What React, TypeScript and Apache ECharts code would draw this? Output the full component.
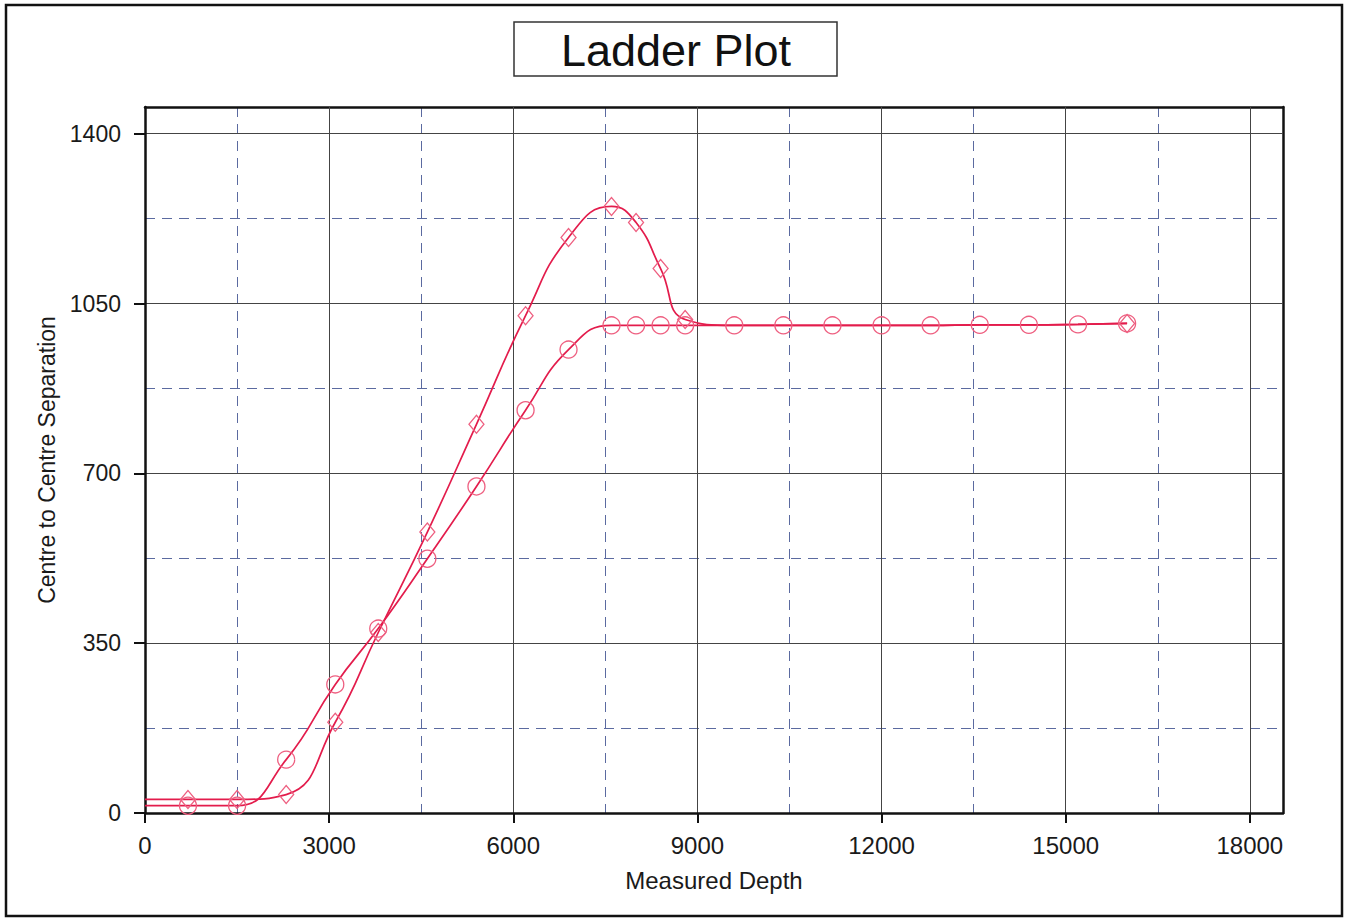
import React, { useEffect, useRef } from "react";
import * as echarts from "echarts";

const circleDepth = [0, 700, 1500, 2300, 3100, 3800, 4600, 5400, 6200, 6900, 7600, 8000, 8400, 8800, 9600, 10400, 11200, 12000, 12800, 13600, 14400, 15200, 16000];
const circleSep = [15, 15, 15, 110, 265, 380, 524, 673, 830, 955, 1005, 1005, 1005, 1005, 1005, 1005, 1005, 1005, 1005, 1006, 1006, 1007, 1009];

const diamondDepth = [0, 700, 1500, 2300, 3100, 3800, 4600, 5400, 6200, 6900, 7600, 8000, 8400, 8800, 9600, 10400, 11200, 12000, 12800, 13600, 14400, 15200, 16000];
const diamondSep = [28, 28, 28, 38, 187, 372, 579, 801, 1025, 1186, 1250, 1217, 1122, 1017, 1005, 1005, 1005, 1005, 1005, 1006, 1006, 1007, 1009];
// diamond markers are drawn only at these depths; elsewhere the line continues unmarked
const diamondMarked = [700, 1500, 2300, 3100, 3800, 4600, 5400, 6200, 6900, 7600, 8000, 8400, 8800, 16000];

const xTicks = { min: 0, max: 18540, major: 3000, minor: 1500 };
const yTicks = { min: 0, max: 1455, major: 350, minor: 175 };

const FONT = "'Liberation Sans', Arial, sans-serif";
const LINE = "#e31c4c";
const MARK = "#ee5f80";

function toData(xs: number[], ys: number[], marked?: number[]) {
  return xs.map((x, i) => {
    const show = i > 0 && (!marked || marked.indexOf(x) >= 0);
    return show ? { value: [x, ys[i]] } : { value: [x, ys[i]], symbol: "none" };
  });
}

const plain = (v: number) => String(v);

export default function App() {
  const ref = useRef<HTMLDivElement>(null);
  useEffect(() => {
    if (!ref.current) return;
    const chart = echarts.init(ref.current, undefined, { renderer: "svg" });
    const black = { color: "#111", width: 2.5 };
    chart.setOption({
      animation: false,
      backgroundColor: "#fff",
      grid: { left: 145, right: 63, top: 107, bottom: 106 },
      xAxis: [
        {
          type: "value",
          position: "bottom",
          min: xTicks.min,
          max: xTicks.max,
          interval: xTicks.major,
          z: 3,
          name: "Measured Depth",
          nameLocation: "middle",
          nameGap: 55,
          nameTextStyle: { fontFamily: FONT, fontSize: 24, color: "#1a1a1a", verticalAlign: "top" },
          axisLine: { show: true, onZero: false, lineStyle: black },
          axisTick: { show: true, length: 10, lineStyle: { color: "#111", width: 2 } },
          axisLabel: { margin: 20, fontFamily: FONT, fontSize: 24, color: "#1a1a1a", showMaxLabel: false, formatter: plain },
          splitLine: { show: true, showMinLine: false, showMaxLine: false, lineStyle: { color: "#444", width: 1 } },
        },
        {
          type: "value",
          position: "top",
          min: xTicks.min,
          max: xTicks.max,
          interval: xTicks.minor,
          z: 1,
          axisLine: { show: true, onZero: false, lineStyle: black },
          axisTick: { show: false },
          axisLabel: { show: false },
          splitLine: { show: true, showMinLine: false, showMaxLine: false, lineStyle: { color: "#5b6aa0", width: 1, type: [10, 7] } },
        },
      ],
      yAxis: [
        {
          type: "value",
          position: "left",
          min: yTicks.min,
          max: yTicks.max,
          interval: yTicks.major,
          z: 3,
          name: "Centre to Centre Separation",
          nameLocation: "middle",
          nameGap: 86,
          nameTextStyle: { fontFamily: FONT, fontSize: 23, color: "#1a1a1a" },
          axisLine: { show: true, onZero: false, lineStyle: black },
          axisTick: { show: true, length: 11, lineStyle: { color: "#111", width: 2 } },
          axisLabel: { margin: 24, fontFamily: FONT, fontSize: 23, color: "#1a1a1a", showMaxLabel: false, formatter: plain },
          splitLine: { show: true, showMinLine: false, showMaxLine: false, lineStyle: { color: "#444", width: 1 } },
        },
        {
          type: "value",
          position: "right",
          min: yTicks.min,
          max: yTicks.max,
          interval: yTicks.minor,
          z: 1,
          axisLine: { show: true, onZero: false, lineStyle: black },
          axisTick: { show: false },
          axisLabel: { show: false },
          splitLine: { show: true, showMinLine: false, showMaxLine: false, lineStyle: { color: "#5b6aa0", width: 1, type: [10, 7] } },
        },
      ],
      graphic: [
        {
          type: "rect",
          shape: { x: 6, y: 5, width: 1336, height: 911 },
          style: { fill: "none", stroke: "#111", lineWidth: 2.5 },
          silent: true,
        },
        {
          type: "rect",
          shape: { x: 514, y: 22, width: 323, height: 54 },
          style: { fill: "none", stroke: "#333", lineWidth: 1.5 },
          silent: true,
        },
        {
          type: "text",
          x: 676,
          y: 50,
          style: {
            text: "Ladder Plot",
            fontFamily: FONT,
            fontSize: 45,
            fill: "#111",
            align: "center",
            verticalAlign: "middle",
          },
          silent: true,
        },
      ],
      series: [
        {
          type: "line",
          name: "Circle",
          xAxisIndex: 0,
          yAxisIndex: 0,
          z: 5,
          smooth: 0.5,
          data: toData(circleDepth, circleSep),
          symbol: "circle",
          symbolSize: 17,
          itemStyle: { color: "rgba(0,0,0,0)", borderColor: MARK, borderWidth: 1.3 },
          lineStyle: { color: LINE, width: 1.7 },
        },
        {
          type: "line",
          name: "Diamond",
          xAxisIndex: 0,
          yAxisIndex: 0,
          z: 5,
          smooth: 0.5,
          data: toData(diamondDepth, diamondSep, diamondMarked),
          symbol: "diamond",
          symbolSize: [15, 18],
          itemStyle: { color: "rgba(0,0,0,0)", borderColor: MARK, borderWidth: 1.3 },
          lineStyle: { color: LINE, width: 1.7 },
        },
      ],
    });
    return () => chart.dispose();
  }, []);
  return (
    <div
      ref={ref}
      style={{ position: "absolute", left: 0, top: 0, width: 1346, height: 919, background: "#fff" }}
    />
  );
}
